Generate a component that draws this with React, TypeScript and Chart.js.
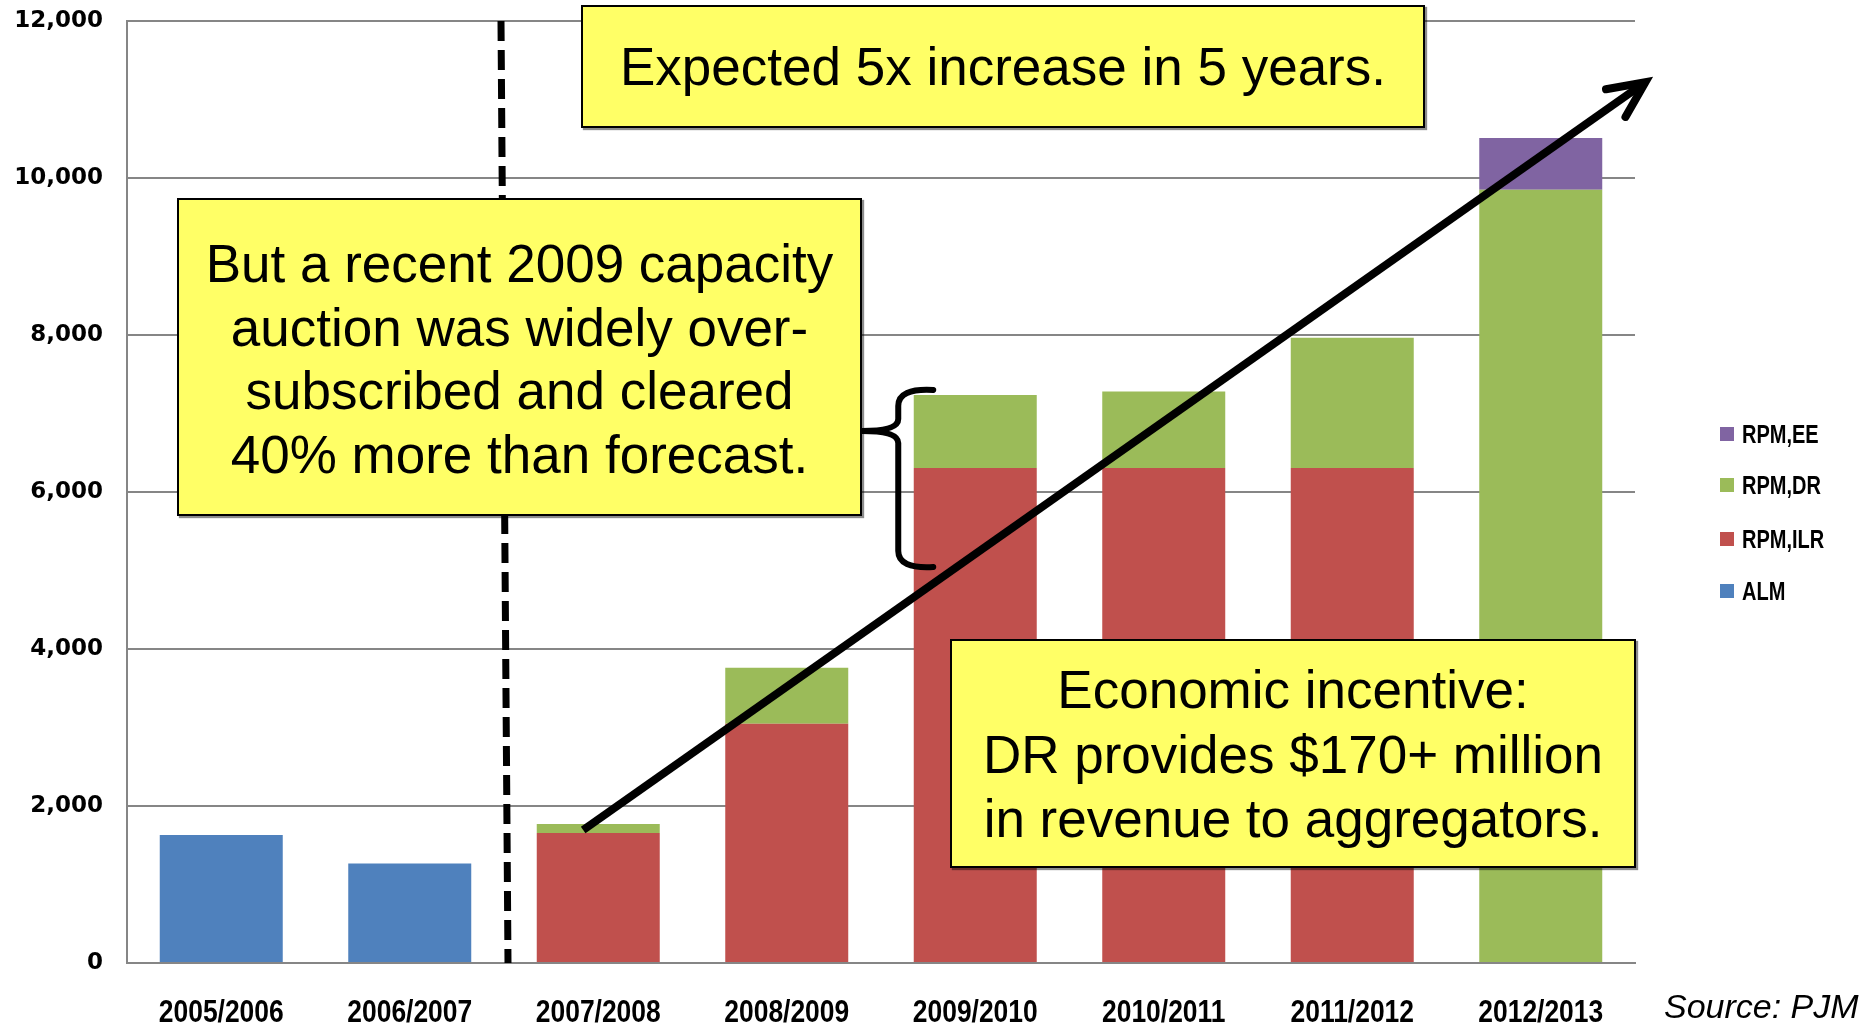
import React, { useEffect, useRef } from "react";
import { Chart, registerables } from "chart.js";

Chart.register(...registerables);

const categories = ["2005/2006", "2006/2007", "2007/2008", "2008/2009", "2009/2010", "2010/2011", "2011/2012", "2012/2013"];
const almValues = [1630, 1266, null, null, null, null, null, null];
const ilrValues = [null, null, 1656, 3047, 6306, 6306, 6306, null];
const drValues = [null, null, 115, 715, 930, 975, 1660, 9850];
const eeValues = [null, null, null, null, null, null, null, 660];
const yTicks = [0, 2000, 4000, 6000, 8000, 10000, 12000];

const seriesNames = ["ALM", "RPM,ILR", "RPM,DR", "RPM,EE"];
const seriesColors = ["#4F81BD", "#C0504D", "#9BBB59", "#8064A2"];

const W = 1873;
const H = 1026;

const overlayPlugin = {
  id: "overlay",
  afterDatasetsDraw(chart: any) {
    const { ctx } = chart;
    const x = chart.scales.x;
    const y = chart.scales.y;
    ctx.save();
    // dashed divider between 2006/2007 and 2007/2008
    const bx = (x.getPixelForValue(1) + x.getPixelForValue(2)) / 2;
    ctx.strokeStyle = "#000";
    ctx.lineWidth = 7;
    ctx.setLineDash([20, 9]);
    ctx.lineCap = "butt";
    ctx.beginPath();
    ctx.moveTo(bx - 3, y.getPixelForValue(12000));
    ctx.lineTo(bx + 4, y.getPixelForValue(0));
    ctx.stroke();
    ctx.setLineDash([]);

    // brace next to 2009/2010
    const xc = x.getPixelForValue(4);
    const endX = xc - 42;
    const spineX = xc - 77;
    const tipX = xc - 113;
    const topY = y.getPixelForValue(7300);
    const tipY = y.getPixelForValue(6777);
    const botY = y.getPixelForValue(5045);
    ctx.lineWidth = 6;
    ctx.lineCap = "round";
    ctx.lineJoin = "round";
    ctx.beginPath();
    ctx.moveTo(endX, topY);
    ctx.quadraticCurveTo(spineX, topY - 2, spineX, topY + 16);
    ctx.lineTo(spineX, tipY - 12);
    ctx.quadraticCurveTo(spineX, tipY, tipX, tipY);
    ctx.quadraticCurveTo(spineX, tipY, spineX, tipY + 12);
    ctx.lineTo(spineX, botY - 16);
    ctx.quadraticCurveTo(spineX, botY + 2, endX, botY);
    ctx.stroke();

    // trend arrow
    const sx = x.getPixelForValue(1.92);
    const sy = y.getPixelForValue(1694);
    const tx = x.getPixelForValue(7.555);
    const ty = y.getPixelForValue(11220);
    const ang = Math.atan2(ty - sy, tx - sx);
    ctx.lineWidth = 8;
    ctx.lineCap = "butt";
    ctx.beginPath();
    ctx.moveTo(sx, sy);
    ctx.lineTo(tx - Math.cos(ang) * 4, ty - Math.sin(ang) * 4);
    ctx.stroke();
    const len = 40;
    const spread = (25 * Math.PI) / 180;
    ctx.lineCap = "round";
    ctx.lineJoin = "miter";
    ctx.beginPath();
    ctx.moveTo(tx - len * Math.cos(ang - spread), ty - len * Math.sin(ang - spread));
    ctx.lineTo(tx, ty);
    ctx.lineTo(tx - len * Math.cos(ang + spread), ty - len * Math.sin(ang + spread));
    ctx.stroke();
    ctx.restore();
  },
  afterDraw(chart: any) {
    // condensed bold category labels under the axis
    const { ctx } = chart;
    const x = chart.scales.x;
    const yc = chart.chartArea.bottom + 50;
    ctx.save();
    ctx.fillStyle = "#000";
    ctx.font = "bold 32px 'Liberation Sans', Arial, sans-serif";
    ctx.textAlign = "center";
    ctx.textBaseline = "middle";
    categories.forEach((lab, i) => {
      ctx.save();
      ctx.translate(x.getPixelForValue(i), yc);
      ctx.scale(0.826, 1);
      ctx.fillText(lab, 0, 0);
      ctx.restore();
    });
    ctx.restore();
  },
};

const boxBase: React.CSSProperties = {
  position: "absolute",
  boxSizing: "border-box",
  background: "#FFFF66",
  border: "2px solid #000",
  boxShadow: "2px 2px 1px rgba(0,0,0,0.45)",
  display: "flex",
  flexDirection: "column",
  justifyContent: "center",
  alignItems: "center",
  textAlign: "center",
  fontFamily: "'Liberation Sans', Arial, sans-serif",
  fontSize: "53px",
  lineHeight: "63.5px",
  color: "#000",
  whiteSpace: "nowrap",
};

export default function App() {
  const canvasRef = useRef<HTMLCanvasElement | null>(null);

  useEffect(() => {
    if (!canvasRef.current) return;
    const seriesData = [almValues, ilrValues, drValues, eeValues];
    const chart = new Chart(canvasRef.current, {
      type: "bar",
      data: {
        labels: categories,
        datasets: seriesNames.map((name, i) => ({
          label: name,
          data: seriesData[i],
          backgroundColor: seriesColors[i],
          borderWidth: 0,
          categoryPercentage: 1,
          barPercentage: 0.6525,
        })),
      },
      options: {
        animation: false,
        responsive: false,
        layout: { padding: { top: 21, right: 238, bottom: 0, left: 0 } },
        plugins: { legend: { display: false }, tooltip: { enabled: false } },
        scales: {
          x: {
            stacked: true,
            grid: { display: false, drawTicks: false },
            border: { display: true, color: "#868686", width: 2 },
            ticks: { display: false },
            afterFit: (s: any) => {
              s.height = 63;
              s.paddingLeft = 0;
              s.paddingRight = 0;
            },
          },
          y: {
            stacked: true,
            min: 0,
            max: 12000,
            afterBuildTicks: (s: any) => {
              s.ticks = yTicks.map((v) => ({ value: v }));
            },
            grid: { color: "#868686", lineWidth: 2, drawTicks: false },
            border: { display: true, color: "#868686", width: 2 },
            ticks: {
              color: "#000",
              padding: 24,
              font: { family: "'DejaVu Sans', sans-serif", weight: "bold", size: 23 },
              callback: (v: any) => Number(v).toLocaleString("en-US"),
            },
            afterFit: (s: any) => {
              s.width = 127;
              s.paddingTop = 0;
              s.paddingBottom = 0;
            },
          },
        },
      },
      plugins: [overlayPlugin],
    });
    return () => chart.destroy();
  }, []);

  const legendTops = [434, 485, 539, 591];
  const legendOrder = [3, 2, 1, 0];

  return (
    <div style={{ position: "absolute", left: 0, top: 0, width: W, height: H, background: "#fff", overflow: "hidden" }}>
      <canvas ref={canvasRef} width={W} height={H} style={{ position: "absolute", left: 0, top: 0, width: W, height: H }} />
      {legendOrder.map((si, k) => (
        <div
          key={seriesNames[si]}
          style={{
            position: "absolute",
            left: 1720,
            top: legendTops[k] - 15,
            height: 30,
            display: "flex",
            alignItems: "center",
            color: "#000",
            whiteSpace: "nowrap",
          }}
        >
          <span style={{ display: "inline-block", width: 14, height: 14, background: seriesColors[si], marginRight: 8 }} />
          <span
            style={{
              display: "inline-block",
              fontFamily: "'Liberation Sans', Arial, sans-serif",
              fontWeight: "bold",
              fontSize: "25px",
              transform: "scaleX(0.8)",
              transformOrigin: "left center",
            }}
          >
            {seriesNames[si]}
          </span>
        </div>
      ))}
      <div style={{ ...boxBase, left: 581, top: 5, width: 844, height: 123 }}>
        <div>Expected 5x increase in 5 years.</div>
      </div>
      <div style={{ ...boxBase, left: 177, top: 198, width: 685, height: 318, paddingTop: 4 }}>
        <div>But a recent 2009 capacity</div>
        <div>auction was widely over-</div>
        <div>subscribed and cleared</div>
        <div>40% more than forecast.</div>
      </div>
      <div style={{ ...boxBase, left: 950, top: 639, width: 686, height: 229, lineHeight: "64.5px", paddingTop: 3 }}>
        <div>Economic incentive:</div>
        <div>DR provides $170+ million</div>
        <div>in revenue to aggregators.</div>
      </div>
      <div
        style={{
          position: "absolute",
          left: 1664,
          top: 986,
          lineHeight: "40px",
          fontFamily: "'Liberation Sans', Arial, sans-serif",
          fontStyle: "italic",
          fontSize: "34px",
          color: "#000",
          whiteSpace: "nowrap",
        }}
      >
        Source: PJM
      </div>
    </div>
  );
}
